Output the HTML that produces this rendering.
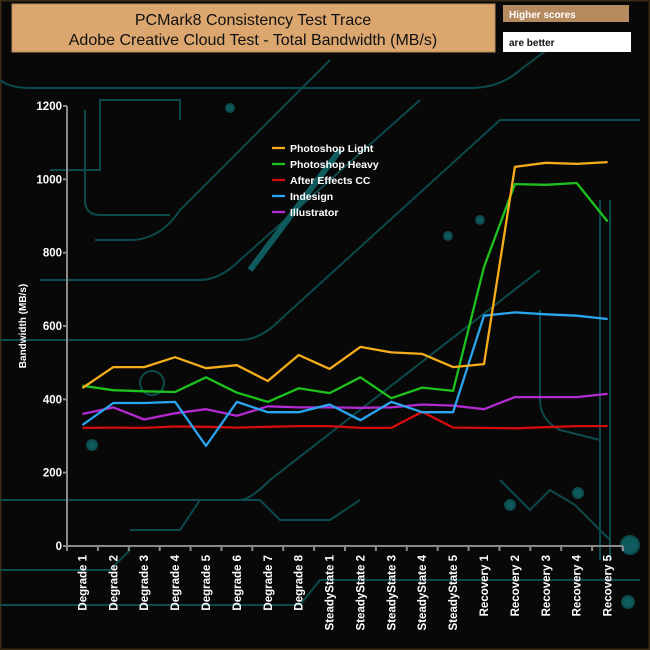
<!DOCTYPE html>
<html><head><meta charset="utf-8"><style>
body{margin:0;background:#050505;}
#wrap{position:relative;width:650px;height:650px;background:#070707;overflow:hidden;font-family:"Liberation Sans",sans-serif;}
</style></head><body>
<div id="wrap">
<svg id="chart" width="650" height="650" xmlns="http://www.w3.org/2000/svg">
<rect x="0" y="0" width="650" height="650" fill="#080808" stroke="#3a2a18" stroke-width="3"/>
<g fill="none" stroke="#0c4a4c" stroke-width="2">
<path d="M0,80 Q10,88 30,88 L470,88 Q500,88 520,70 L560,40"/>
<path d="M50,170 L100,170 L100,100 L180,100 L180,120"/>
<path d="M85,110 L85,200 Q85,215 100,215 L170,215"/>
<path d="M95,240 L130,240 Q160,240 180,210 L330,60"/>
<path d="M40,280 L200,280 Q220,280 240,260 L420,100"/>
<path d="M0,340 L240,340 Q260,340 280,320 L500,120 L640,120"/>
<path d="M0,500 L240,500 Q250,500 270,480 L540,270"/>
<path d="M130,530 L180,530 L200,500 L260,500 L280,520 L330,520 L360,500"/>
<path d="M0,570 L110,570 L130,550"/>
<path d="M0,605 L300,605 L320,580 L640,580"/>
<path d="M540,310 L540,400 Q540,420 560,430 L600,440"/>
<path d="M600,200 L600,560 M610,200 L610,560"/>
<path d="M500,480 L530,510 L550,490 L575,505 L610,540"/>
<path d="M340,150 L250,270" stroke-width="6" stroke="#0e5a5c"/>
<circle cx="230" cy="108" r="4" fill="#0e5a5c"/>
<circle cx="152" cy="383" r="12"/>
<circle cx="92" cy="445" r="5" fill="#0e5a5c"/>
<circle cx="630" cy="545" r="9" fill="#0e5a5c"/>
<circle cx="628" cy="602" r="6" fill="#0e5a5c"/>
<circle cx="510" cy="505" r="5" fill="#0e5a5c"/>
<circle cx="578" cy="493" r="5" fill="#0e5a5c"/>
<circle cx="480" cy="220" r="4" fill="#0e5a5c"/>
<circle cx="448" cy="236" r="4" fill="#0e5a5c"/>
</g>
<rect x="12" y="4" width="483" height="48" fill="#dca66f" stroke="#b58a5e"/>
<text x="253" y="25" font-size="16" text-anchor="middle" fill="#111">PCMark8 Consistency Test Trace</text>
<text x="253" y="45" font-size="16" text-anchor="middle" fill="#111">Adobe Creative Cloud Test - Total Bandwidth (MB/s)</text>
<rect x="503" y="5" width="126" height="17" fill="#b58a5e"/>
<text x="509" y="18" font-size="10" font-weight="bold" fill="#fff">Higher scores</text>
<rect x="503" y="32" width="128" height="20" fill="#fff"/>
<text x="509" y="46" font-size="10" font-weight="bold" fill="#111">are better</text>
<text transform="translate(26,326) rotate(-90)" font-size="10" font-weight="bold" fill="#fff" text-anchor="middle">Bandwidth (MB/s)</text>
<g id="axes"></g>
<g id="series"></g>
<g id="legend"></g>
</svg>
</div>
<script>
const categories=["Degrade 1","Degrade 2","Degrade 3","Degrade 4","Degrade 5","Degrade 6","Degrade 7","Degrade 8","SteadyState 1","SteadyState 2","SteadyState 3","SteadyState 4","SteadyState 5","Recovery 1","Recovery 2","Recovery 3","Recovery 4","Recovery 5"];
const photoshopLight=[431,488,488,515,485,493,450,521,483,543,528,524,488,496,1034,1045,1042,1047];
const photoshopHeavy=[437,425,422,420,460,418,393,430,417,460,403,432,423,761,987,985,990,885];
const afterEffects=[322,323,322,326,325,323,325,327,327,322,322,366,323,322,321,324,327,327];
const indesign=[330,390,390,393,273,393,365,365,386,343,393,365,365,628,637,632,628,619];
const illustrator=[360,378,345,362,373,355,381,378,378,377,378,386,383,373,406,406,406,415];
const yTicks=[0,200,400,600,800,1000,1200];
const seriesNames=["Photoshop Light"," Photoshop Heavy"," After Effects CC","Indesign","Illustrator"];
const seriesColors=["#f5ad1c","#1dc21d","#d40d0d","#2aa6f0","#b22ad0"];
const NS="http://www.w3.org/2000/svg";
const X0=67,X1=623,Y0=546,Y1=106,YMAX=1200;
const band=(X1-X0)/categories.length;
function xs(i){return X0+band*(i+0.5);}
function ys(v){return Y0-(v/YMAX)*(Y0-Y1);}
function mk(tag,attrs,parent){const e=document.createElementNS(NS,tag);for(const k in attrs)e.setAttribute(k,attrs[k]);parent.appendChild(e);return e;}
const axes=document.getElementById('axes');
let yl=mk('line',{x1:X0,y1:Y1,x2:X0,y2:Y0,stroke:'#8a8a8a','stroke-width':2},axes);


let xl=mk('line',{x1:X0,y1:Y0,x2:X1,y2:Y0,stroke:'#8a8a8a','stroke-width':2},axes);


yTicks.forEach(t=>{
  const y=ys(t);
  let tk=mk('line',{x1:X0-4,y1:y,x2:X0,y2:y,stroke:'#8a8a8a','stroke-width':2},axes);
  
  
  let tx=mk('text',{x:X0-5,y:y+4,'font-size':11.5,'font-weight':'bold',fill:'#fff','text-anchor':'end'},axes);
  tx.textContent=t;
  
  
});
for(let i=0;i<=categories.length;i++){
  const x=X0+band*i;
  let tk=mk('line',{x1:x,y1:Y0,x2:x,y2:Y0+5,stroke:'#8a8a8a','stroke-width':2},axes);
  
  
}
categories.forEach((c,i)=>{
  const x=xs(i)+4;
  let tx=mk('text',{transform:`translate(${x},555) rotate(-90)`,'font-size':11.5,'font-weight':'bold',fill:'#fff','text-anchor':'end'},axes);
  tx.textContent=c;
  
  
});
const data=[photoshopLight,photoshopHeavy,afterEffects,indesign,illustrator];
const keys=['photoshop-light','photoshop-heavy','after-effects','indesign','illustrator'];
const sg=document.getElementById('series');
[2,4,3,1,0].forEach(s=>{
  const pts=data[s].map((v,i)=>xs(i).toFixed(1)+','+ys(v).toFixed(1)).join(' ');
  let pl=mk('polyline',{points:pts,fill:'none',stroke:seriesColors[s],'stroke-width':2.3,'stroke-linejoin':'round'},sg);
  
  
});
const lg=document.getElementById('legend');
seriesNames.forEach((n,i)=>{
  const y=148+i*16;
  let ln=mk('line',{x1:272,y1:y,x2:285,y2:y,stroke:seriesColors[i],'stroke-width':2.3},lg);
  
  
  let tx=mk('text',{x:290,y:y+4,'font-size':10.5,'font-weight':'bold',fill:'#fff','xml:space':'preserve'},lg);
  tx.textContent=n;
  
  
});
</script>
</body></html>
